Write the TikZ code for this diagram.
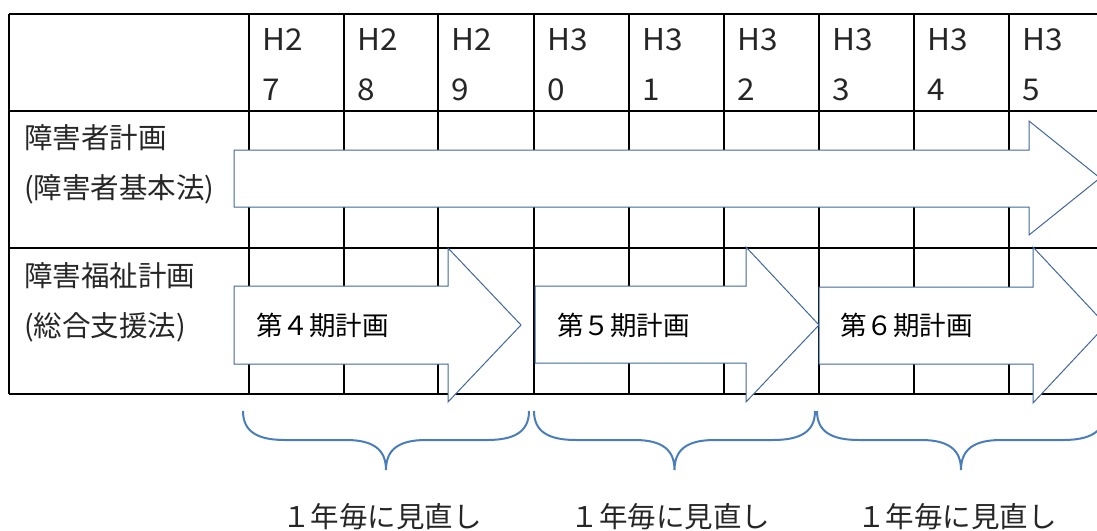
\documentclass[tikz,border=0pt]{standalone}
\usepackage{fontspec}
\setmainfont{Noto Sans CJK JP}
\begin{document}
\begin{tikzpicture}[x=1pt,y=-1pt,
  grid/.style={line width=1.8pt,black},
  arr/.style={draw=arrblue,fill=white,line width=1pt,line join=miter},
  brace/.style={draw=braceblue,line width=2pt},
  hdr/.style={anchor=base west,inner sep=0pt,font=\fontsize{30}{34}\selectfont\addfontfeatures{FakeStretch=1.05},text=black!85},
  lbl/.style={anchor=base west,inner sep=0pt,font=\fontsize{28.5}{32}\selectfont,text=black!85},
  atxt/.style={anchor=base west,inner sep=0pt,font=\fontsize{26.5}{30}\selectfont,text=black},
  btxt/.style={anchor=base,inner sep=0pt,font=\fontsize{28.5}{32}\selectfont,text=black!85}]
\definecolor{arrblue}{HTML}{41689C}
\definecolor{braceblue}{HTML}{4A7EBB}
\useasboundingbox (0,0) rectangle (1097,530);
\clip (0,0) rectangle (1097,530);
% table grid
\draw[grid] (9,14) -- (1110,14);
\draw[grid] (9,111) -- (1110,111);
\draw[grid] (9,248) -- (1110,248);
\draw[grid] (9,394) -- (1110,394);
\draw[grid] (9,14) -- (9,394);
\foreach \x in {249,344,438,534,629,724,819,914,1009}{\draw[grid] (\x,14) -- (\x,394);}
% header labels
\foreach \x/\a/\b [count=\i] in {249/H2/7,344/H2/8,438/H2/9,534/H3/0,629/H3/1,724/H3/2,819/H3/3,914/H3/4,1009/H3/5}{
  \node[hdr] (ha\i) at (\x+13,50) {\a};
  \node[hdr] (hb\i) at (\x+13,100) {\b};
}
% row labels
\node[lbl] (r1a) at (24,148) {障害者計画};
\node[lbl] (r1b) at (24,198) {(障害者基本法)};
\node[lbl] (r2a) at (24,286) {障害福祉計画};
\node[lbl] (r2b) at (24,336) {(総合支援法)};
% big arrow row 1
\draw[arr] (234,150) -- (1029,150) -- (1029,121) -- (1100,178) -- (1029,235) -- (1029,207) -- (234,207) -- cycle;
% row 2 arrows
\draw[arr] (234,286) -- (448,286) -- (448,248) -- (521,325) -- (448,402) -- (448,364) -- (234,364) -- cycle;
\draw[arr] (535,286) -- (746,286) -- (746,247) -- (819,325) -- (746,402) -- (746,363) -- (535,363) -- cycle;
\draw[arr] (819,287) -- (1033,287) -- (1033,247) -- (1106,325) -- (1033,403) -- (1033,364) -- (819,364) -- cycle;
\node[atxt] (p4) at (256,335) {第４期計画};
\node[atxt] (p5) at (557,335) {第５期計画};
\node[atxt] (p6) at (840,335) {第６期計画};
% braces
\foreach \a/\b [count=\i] in {243/529,534/815,817/1105}{
  \pgfmathsetmacro{\m}{(\a+\b)/2}
  \draw[brace] (\a,411) .. controls (\a,432) and (\a+15,440) .. (\a+42,440)
     -- (\m-40,440) .. controls (\m-12,440) and (\m,450) .. (\m,470)
     .. controls (\m,450) and (\m+12,440) .. (\m+40,440)
     -- (\b-42,440) .. controls (\b-15,440) and (\b,432) .. (\b,411);
  \node[btxt] (rv\i) at (\m-4,527) {１年毎に見直し};
}
\end{tikzpicture}
\end{document}
